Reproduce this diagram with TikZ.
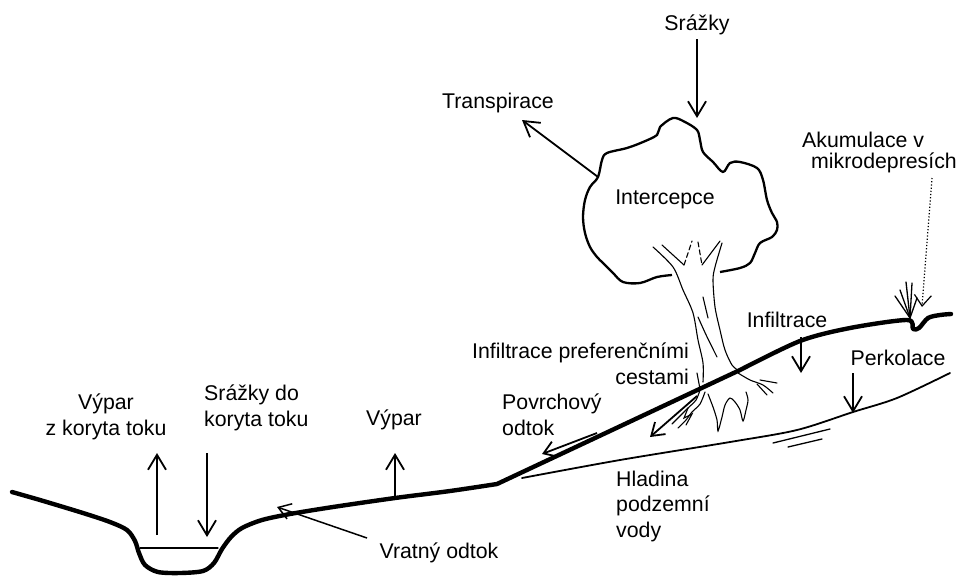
\documentclass[tikz,border=0pt]{standalone}
\usepackage{fontspec}
\setmainfont{Liberation Sans}
\usetikzlibrary{arrows.meta}
\begin{document}
\begin{tikzpicture}[x=1pt,y=-1pt,
  lbl/.style={inner sep=0pt, font=\fontsize{21.3}{25.5}\selectfont},
  ground/.style={line width=4.4pt, line cap=round, line join=round},
  flow/.style={line width=1.8pt, -{Straight Barb[length=15pt,width=18pt]}},
  thinline/.style={line width=1.6pt, line cap=round},
  crown/.style={line width=2.3pt, line join=round},
  bark/.style={line width=1.1pt, line cap=round}]
\fill[white] (0,0) rectangle (960,576);
\useasboundingbox (0,0) rectangle (960,576);

% --- labels ---
\node[lbl] (srazky) at (697,25) {Srážky};
\node[lbl] (transp) at (498,103) {Transpirace};
\node[lbl] (interc) at (665,199) {Intercepce};
\node[lbl, anchor=west] (akum1) at (802,140) {Akumulace v};
\node[lbl, anchor=west] (akum2) at (811,163) {mikrodepresích};
\node[lbl] (infil) at (787,320) {Infiltrace};
\node[lbl] (perk) at (898,358) {Perkolace};
\node[lbl, align=right, anchor=east] (pref) at (689,364) {Infiltrace preferenčními\\cestami};
\node[lbl, align=left, anchor=west] (povrch) at (502,415) {Povrchový\\odtok};
\node[lbl] (vypar) at (394,420) {Výpar};
\node[lbl, align=center] (vyparkor) at (106,417) {Výpar\\z koryta toku};
\node[lbl, align=left, anchor=west] (srkor) at (204,408) {Srážky do\\koryta toku};
\node[lbl, align=left, anchor=west] (hlad) at (616,506) {Hladina\\podzemní\\vody};
\node[lbl] (vratny) at (439,553) {Vratný odtok};

% --- ground surface ---
\draw[ground] plot[smooth, tension=0.5] coordinates {
  (12,492) (40,500) (83,513) (110,522) (127,530) (135,541) (139,553)
  (145,565) (158,572) (180,573) (203,571) (214,563) (222,549) (231,537)
  (242,528) (262,520) (290,514) (333,507) (395,498) (450,491) (497,484)}
  -- (740,370)
  -- plot[smooth, tension=0.5] coordinates {
  (740,370) (800,341) (850,328) (907,320) (913,329) (919,328) (928,318)
  (940,315) (951,314)};

% water level in the channel
\draw[thinline, line width=1.3pt] (140,548) -- (218,548);

% groundwater table
\draw[thinline, line width=1.8pt] plot[smooth, tension=0.5] coordinates {
  (522,478) (620,460) (730,442) (797,430) (853,412) (897,398) (950,373)};
\draw[thinline, line width=1.3pt] (773,443) -- (830,429);
\draw[thinline, line width=1.3pt] (788,447) -- (822,439);

% --- tree crown ---
\draw[crown] plot[smooth, tension=0.55] coordinates {
  (672,275) (657,277) (640,283) (623,282) (613,273) (603,263) (597,257)
  (590,247) (585,233) (583,217) (585,200) (590,187) (598,177) (602,160)
  (607,153) (627,148) (643,142) (657,135) (660,127) (673,118) (685,122)
  (697,130) (700,140) (703,152) (713,162) (723,172) (730,163) (740,162)
  (757,168) (763,180) (767,200) (772,213) (777,222) (777,230) (772,237)
  (760,243) (755,253) (750,263) (740,268) (720,272)};

% --- trunk and branches ---
\draw[bark] plot[smooth, tension=0.5] coordinates {
  (653,247) (673,267) (683,290) (693,313) (698,340) (703,363) (703,382)};
\draw[bark] (697,373) -- (700,389);
\draw[bark] plot[smooth, tension=0.5] coordinates {
  (722,243) (715,267) (713,280) (715,307) (720,330) (725,350) (732,365) (739,371)};
\draw[bark] (662,245) -- (684,265);
\draw[bark, dash pattern=on 5pt off 3pt] (684,265) -- (692,241);
\draw[bark, dash pattern=on 5pt off 3pt] (698,242) -- (702,265);
\draw[bark] (702,265) -- (720,241);
\draw[bark] (703,297) -- (708,318);
\draw[bark] (698,317) .. controls (706,335) .. (717,357);

% --- roots ---
\draw[bark] plot[smooth, tension=0.5] coordinates {
  (700,390) (696,400) (688,408) (680,416) (672,424)};
\draw[bark] plot[smooth, tension=0.5] coordinates {
  (705,392) (700,404) (692,412) (686,420) (678,428)};
\draw[bark] (688,408) -- (684,418) -- (692,414) -- (686,425);
\draw[bark] plot[smooth, tension=0.5] coordinates {
  (708,394) (713,407) (717,420) (718,431) (722,417) (725,405) (730,398)
  (735,402) (740,410) (743,421) (746,410) (748,400) (746,392)};
\draw[bark] plot[smooth, tension=0.5] coordinates {
  (738,373) (750,380) (763,385) (773,393)};
\draw[bark] (757,384) -- (767,395);
\draw[bark] (760,380) -- (777,383);

% --- grass tuft in the micro-depression ---
\draw[bark, line width=1.3pt] (910,318) -- (895,296);
\draw[bark, line width=1.3pt] (910,318) -- (900,290);
\draw[bark, line width=1.3pt] (910,318) -- (906,282);
\draw[bark, line width=1.3pt] (910,318) -- (912,283);
\draw[bark, line width=1.3pt] (910,318) -- (917,298);

% --- flow arrows ---
\coordinate (crowntop) at (697,118);
\coordinate (crownleft) at (598,177);
\coordinate (transptip) at (522,120);
\draw[flow] (srazky.south) ++(0,4) -- (crowntop);
\draw[flow] (crownleft) -- (transptip);

\coordinate (infA) at (801,337);
\coordinate (infB) at (801,373);
\draw[flow] (infA) -- (infB);
\coordinate (perA) at (853,373);
\coordinate (perB) at (853,413);
\draw[flow] (perA) -- (perB);

\coordinate (povA) at (597,433);
\coordinate (povB) at (542,454);
\draw[flow, -{Straight Barb[length=12pt,width=16pt]}] (povA) -- (povB);

\coordinate (prefA) at (697,396);
\coordinate (prefB) at (650,437);
\draw[flow, -{Straight Barb[length=12pt,width=16pt]}] (prefA) -- (prefB);

\coordinate (vypA) at (395,497);
\coordinate (vypB) at (395,453);
\draw[flow] (vypA) -- (vypB);

\coordinate (vkA) at (157,535);
\coordinate (vkB) at (157,453);
\draw[flow] (vkA) -- (vkB);

\coordinate (skA) at (207,453);
\coordinate (skB) at (207,537);
\draw[flow] (skA) -- (skB);

\coordinate (vrA) at (367,538);
\coordinate (vrB) at (277,507);
\draw[flow, line width=1.5pt, -{Straight Barb[length=12pt,width=16pt]}] (vrA) -- (vrB);

\coordinate (akA) at (932,178);
\coordinate (akB) at (922,307);
\draw[line width=1.2pt, dotted, -{Straight Barb[length=11pt,width=17pt]}] (akA) -- (akB);
\end{tikzpicture}
\end{document}
